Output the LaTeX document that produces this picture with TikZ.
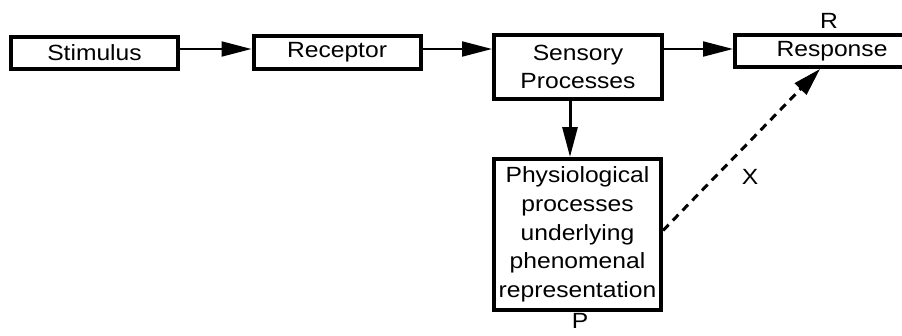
\documentclass[tikz,border=0pt]{standalone}
\usepackage{fontspec}
\setmainfont[FakeStretch=1.12]{Liberation Sans}
\usetikzlibrary{arrows.meta}
\begin{document}
\begin{tikzpicture}[x=1pt,y=-1pt,
  box/.style={draw,line width=4pt,inner sep=0pt,align=center,font=\fontsize{22}{28.7}\selectfont},
  lbl/.style={inner sep=0pt,font=\fontsize{22}{26}\selectfont},
  thinarrow/.style={line width=2pt,-{Triangle[length=30pt,width=15pt]}},
  thickarrow/.style={line width=3pt,-{Triangle[length=30pt,width=15pt]}},
  dasharrow/.style={line width=3pt,dash pattern=on 8pt off 6pt,-{Triangle[length=28pt,width=16pt]}}]
\useasboundingbox (0,0) rectangle (902,335);
\clip (0,0) rectangle (902,335);
\node[box,minimum width=167pt,minimum height=32pt] (stim) at (94.5,53) {Stimulus};
\node[box,minimum width=167pt,minimum height=33pt] (rec) at (337,52.5) {Receptor};
\node[box,minimum width=168pt,minimum height=64pt] (sens) at (578,67) {Sensory\\Processes};
\node[box,minimum width=194pt,minimum height=32pt] (resp) at (832,51) {Response};
\node[box,minimum width=167pt,minimum height=151pt] (phys) at (577.5,234.5) {Physiological\\processes\\underlying\\phenomenal\\representation};
\node[lbl] (rl) at (829,21) {R};
\node[lbl] (pl) at (580,321) {P};
\node[lbl] (xl) at (750,177) {X};
\draw[thinarrow] ([yshift=4pt]stim.east) -- ([yshift=3.5pt]rec.west);
\draw[thinarrow] ([yshift=3.5pt]rec.east) -- ([yshift=18pt]sens.west);
\draw[thinarrow] ([yshift=18pt]sens.east) -- ([yshift=2pt]resp.west);
\draw[thickarrow] ([xshift=-8pt]sens.south) -- ([xshift=-7.5pt]phys.north);
\draw[dasharrow] ([yshift=4pt]phys.east) -- ([xshift=-12pt]resp.south);
\end{tikzpicture}
\end{document}
